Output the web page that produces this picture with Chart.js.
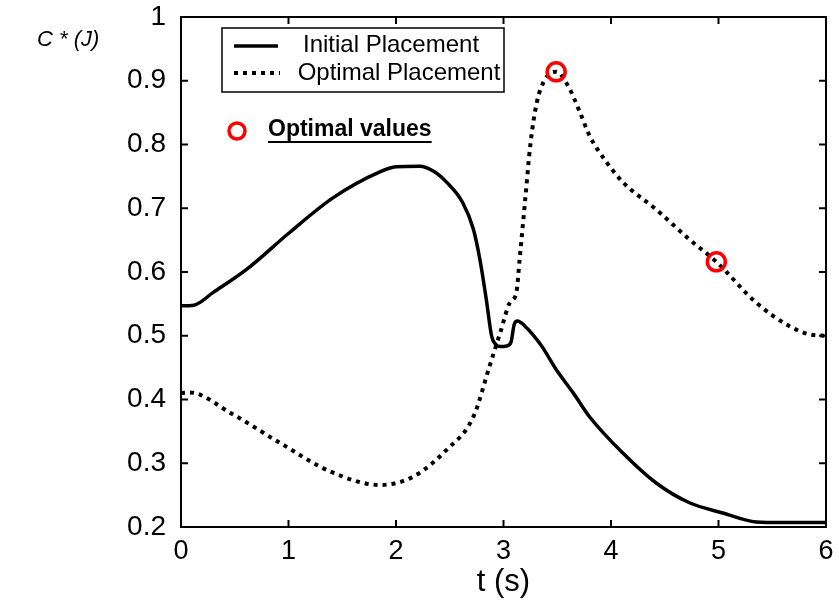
<!DOCTYPE html>
<html>
<head>
<meta charset="utf-8">
<script src="https://cdn.jsdelivr.net/npm/chart.js@4/dist/chart.umd.min.js"></script>
<style>
  html, body { margin: 0; padding: 0; background: #fff; }
  #wrap { width: 839px; height: 613px; }
</style>
</head>
<body>
<div id="wrap"><canvas id="c" width="839" height="613"></canvas></div>
<script>
// values
const tInit = [0, 0.12, 0.3, 0.61, 1.01, 1.42, 1.85, 2.0, 2.22, 2.35, 2.47, 2.62, 2.72, 2.78, 2.84, 2.89, 2.93, 2.97, 3.03, 3.07, 3.1, 3.13, 3.2, 3.35, 3.49, 3.65, 3.8, 4.11, 4.42, 4.73, 5.04, 5.35, 5.6, 6.0];
const cInit = [0.547, 0.548, 0.568, 0.604, 0.662, 0.717, 0.757, 0.765, 0.766, 0.758, 0.741, 0.709, 0.667, 0.62, 0.557, 0.499, 0.486, 0.483, 0.484, 0.49, 0.518, 0.523, 0.515, 0.485, 0.447, 0.41, 0.373, 0.316, 0.269, 0.238, 0.222, 0.208, 0.207, 0.207];

const tOpt = [0, 0.08, 0.46, 0.92, 1.39, 1.85, 2.16, 2.47, 2.72, 2.87, 2.97, 3.06, 3.12, 3.15, 3.2, 3.25, 3.31, 3.39, 3.49, 3.6, 3.71, 3.8, 3.96, 4.11, 4.42, 4.73, 4.98, 5.35, 5.66, 5.85, 6.0];
const cOpt = [0.41, 0.411, 0.379, 0.332, 0.287, 0.266, 0.279, 0.321, 0.373, 0.452, 0.505, 0.552, 0.568, 0.62, 0.71, 0.8, 0.866, 0.903, 0.914, 0.892, 0.851, 0.814, 0.772, 0.741, 0.698, 0.651, 0.616, 0.552, 0.515, 0.502, 0.5];

const tBest = [3.49, 4.98];
const cBest = [0.914, 0.616];

const seriesNames = ['Initial Placement', 'Optimal Placement'];
const markerLabel = 'Optimal values';
const yAxisLabel = 'C * (J)';
const xAxisLabel = 't (s)';

function pts(xs, ys) { return xs.map((x, i) => ({ x: x, y: ys[i] })); }

// inward ticks, full box, legend and labels (MATLAB look)
const frame = {
  id: 'frame',
  afterDraw(chart) {
    const ctx = chart.ctx;
    const a = chart.chartArea;
    const xs = chart.scales.x, ys = chart.scales.y;
    ctx.save();
    ctx.strokeStyle = '#000';
    ctx.lineWidth = 2;
    ctx.strokeRect(a.left, a.top, a.right - a.left, a.bottom - a.top);
    ctx.beginPath();
    xs.ticks.forEach(t => {
      const px = xs.getPixelForValue(t.value);
      ctx.moveTo(px, a.bottom); ctx.lineTo(px, a.bottom - 7);
      ctx.moveTo(px, a.top); ctx.lineTo(px, a.top + 7);
    });
    ys.ticks.forEach(t => {
      const py = ys.getPixelForValue(t.value);
      ctx.moveTo(a.left, py); ctx.lineTo(a.left + 7, py);
      ctx.moveTo(a.right, py); ctx.lineTo(a.right - 7, py);
    });
    ctx.stroke();

    // legend box
    ctx.fillStyle = '#fff';
    ctx.fillRect(222, 28, 282, 64);
    ctx.lineWidth = 1.5;
    ctx.strokeRect(222, 28, 282, 64);
    ctx.lineWidth = 3.5;
    ctx.beginPath(); ctx.moveTo(234, 46); ctx.lineTo(278, 46); ctx.stroke();
    ctx.lineWidth = 4;
    ctx.setLineDash([4, 5]);
    ctx.beginPath(); ctx.moveTo(234, 73); ctx.lineTo(280, 73); ctx.stroke();
    ctx.setLineDash([]);
    ctx.fillStyle = '#000';
    ctx.font = '24px Arial, "Liberation Sans", sans-serif';
    ctx.textAlign = 'center';
    ctx.textBaseline = 'middle';
    ctx.fillText(seriesNames[0], 391, 45);
    ctx.fillText(seriesNames[1], 399, 73);

    // optimal values note
    ctx.strokeStyle = '#f00';
    ctx.lineWidth = 3.5;
    ctx.beginPath(); ctx.arc(237, 131, 8, 0, Math.PI * 2); ctx.stroke();
    ctx.font = 'bold 23px Arial, "Liberation Sans", sans-serif';
    ctx.textAlign = 'left';
    ctx.fillText(markerLabel, 268, 130);
    const w = ctx.measureText(markerLabel).width;
    ctx.fillRect(268, 141, w, 2);

    // y label, horizontal at top left
    ctx.font = 'italic 22px Arial, "Liberation Sans", sans-serif';
    ctx.fillText(yAxisLabel, 37, 40);
    ctx.restore();
  }
};

new Chart(document.getElementById('c'), {
  type: 'scatter',
  data: {
    datasets: [
      {
        label: markerLabel,
        data: pts(tBest, cBest),
        showLine: false,
        pointRadius: 9,
        pointBorderWidth: 3.5,
        pointBorderColor: '#f00',
        pointBackgroundColor: 'rgba(0,0,0,0)',
        order: 0
      },
      {
        label: seriesNames[0],
        data: pts(tInit, cInit),
        showLine: true,
        borderColor: '#000',
        borderWidth: 3.5,
        pointRadius: 0,
        cubicInterpolationMode: 'monotone',
        order: 1
      },
      {
        label: seriesNames[1],
        data: pts(tOpt, cOpt),
        showLine: true,
        borderColor: '#000',
        borderWidth: 4,
        borderDash: [4, 5],
        pointRadius: 0,
        cubicInterpolationMode: 'monotone',
        order: 2
      }
    ]
  },
  options: {
    responsive: false,
    animation: false,
    layout: { padding: { left: 0, right: 13, top: 17, bottom: 0 } },
    plugins: { legend: { display: false }, tooltip: { enabled: false } },
    scales: {
      x: {
        type: 'linear',
        min: 0, max: 6,
        grid: { display: false, drawTicks: false },
        border: { display: true, color: '#000', width: 2 },
        ticks: {
          stepSize: 1, padding: 8, color: '#000',
          font: { family: 'Arial, "Liberation Sans", sans-serif', size: 27 }
        },
        title: {
          display: true, text: xAxisLabel, color: '#000',
          font: { family: '"Liberation Sans Narrow", Arial, sans-serif', size: 31 },
          padding: { top: 4, bottom: 12 }
        },
        afterFit(s) { s.height = 86; s.paddingLeft = 0; s.paddingRight = 0; }
      },
      y: {
        min: 0.2, max: 1,
        grid: { display: false, drawTicks: false },
        border: { display: true, color: '#000', width: 2 },
        ticks: {
          stepSize: 0.1, padding: 15, color: '#000',
          font: { family: 'Arial, "Liberation Sans", sans-serif', size: 28 },
          callback: v => String(Number(v.toFixed(1)))
        },
        afterFit(s) { s.width = 181; s.paddingTop = 0; s.paddingBottom = 0; }
      }
    }
  },
  plugins: [frame]
});
</script>
</body>
</html>
